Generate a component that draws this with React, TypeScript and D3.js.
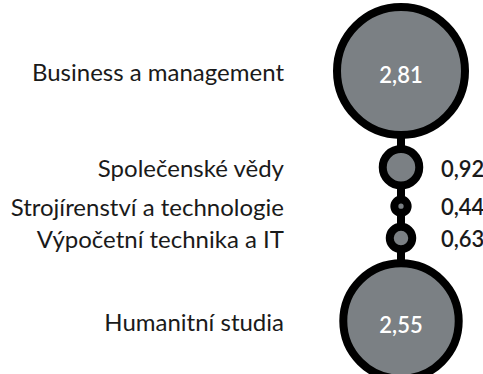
import * as d3 from "d3";
import { useEffect, useRef } from "react";

// fields of study and their values
const categories = [
  "Business a management",
  "Společenské vědy",
  "Strojírenství a technologie",
  "Výpočetní technika a IT",
  "Humanitní studia",
];
const values = [2.81, 0.92, 0.44, 0.63, 2.55];
const valueLabels = ["2,81", "0,92", "0,44", "0,63", "2,55"];

const W = 483;
const H = 374;

export const BubbleStack = () => {
  const svgRef = useRef(null);

  useEffect(() => {
    const svg = d3.select(svgRef.current);
    svg.selectAll("*").remove();

    const cx = 401;
    const top = 3;
    const gap = 6;
    const stroke = 8;
    const font = "Lato, 'Open Sans', sans-serif";

    // outer radius proportional to the value
    const r = d3.scaleLinear().domain([0, 2.81]).range([0, 68]);

    // stack circles vertically
    const centers: number[] = [];
    let y = top;
    values.forEach((v) => {
      const R = r(v);
      centers.push(y + R);
      y += 2 * R + gap;
    });

    const data = values.map((v, i) => ({
      name: categories[i],
      value: v,
      label: valueLabels[i],
      cy: centers[i],
      R: r(v),
    }));

    // connector line
    svg
      .append("line")
      .attr("x1", cx)
      .attr("x2", cx)
      .attr("y1", centers[0])
      .attr("y2", centers[centers.length - 1])
      .attr("stroke", "#000")
      .attr("stroke-width", stroke);

    // circles
    svg
      .selectAll("circle.bubble")
      .data(data)
      .enter()
      .append("circle")
      .attr("class", "bubble")
      .attr("cx", cx)
      .attr("cy", (d) => d.cy)
      .attr("r", (d) => d.R - stroke / 2)
      .attr("fill", "#7b8084")
      .attr("stroke", "#000")
      .attr("stroke-width", stroke);

    // category labels
    svg
      .selectAll("text.cat")
      .data(data)
      .enter()
      .append("text")
      .attr("class", "cat")
      .attr("x", 284)
      .attr("y", (d) => d.cy)
      .attr("dy", "0.42em")
      .attr("text-anchor", "end")
      .attr("font-family", font)
      .attr("font-size", 24)
      .attr("fill", "#1a1a1a")
      .text((d) => d.name);

    // value labels: inside big circles, right of small ones
    svg
      .selectAll("text.val")
      .data(data)
      .enter()
      .append("text")
      .attr("class", "val")
      .attr("x", (d) => (d.R > 40 ? cx : 441))
      .attr("y", (d) => d.cy)
      .attr("dy", (d) => (d.R > 40 ? "0.55em" : "0.42em"))
      .attr("text-anchor", (d) => (d.R > 40 ? "middle" : "start"))
      .attr("font-family", font)
      .attr("font-size", 22)
      .attr("font-weight", 600)
      .attr("fill", (d) => (d.R > 40 ? "#fff" : "#1a1a1a"))
      .text((d) => d.label);
  }, []);

  return (
    <svg
      ref={svgRef}
      width={W}
      height={H}
      style={{ position: "absolute", left: 0, top: 0, background: "#fff" }}
    />
  );
};

export default function App() {
  return <BubbleStack />;
}
